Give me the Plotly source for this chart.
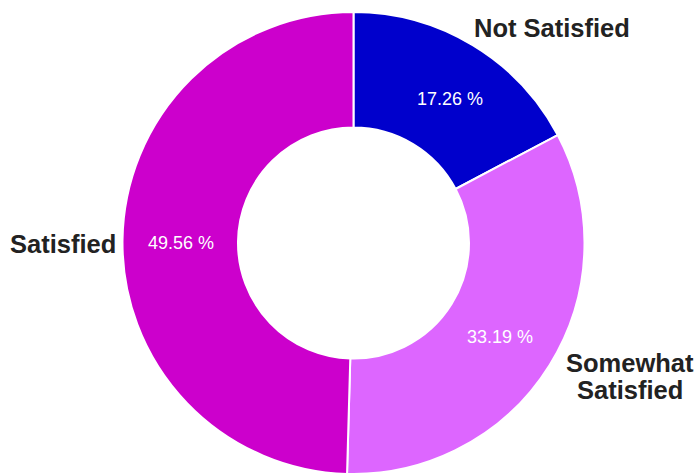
import math
import plotly.graph_objects as go

# Survey result shares (percent)
categories = ["Not Satisfied", "Somewhat Satisfied", "Satisfied"]
shares = [17.26, 33.19, 49.56]
slice_colors = ["#0000CC", "#DD66FF", "#CC00CC"]
name_lines = [["Not Satisfied"], ["Somewhat", "Satisfied"], ["Satisfied"]]

W, H = 698, 475
CX, CY, R = 353.5, 243.0, 231.0  # donut centre and outer radius in pixels
HOLE = 0.5
FONT = "Liberation Sans, Arial, sans-serif"

# label placement styles: (radius factor, x anchor, pixel nudge dx, dy)
name_style = [(1.065, "left", -8, -4), (1.065, "center", 68, 4), (1.065, "right", 10, 4)]
pct_nudge = [(7, 4), (-1, 3), (1, 2)]

fig = go.Figure(
    go.Pie(
        labels=categories,
        values=shares,
        textinfo="none",
        hole=HOLE,
        sort=False,
        direction="clockwise",
        rotation=0,
        marker=dict(colors=slice_colors, line=dict(color="white", width=2)),
        domain=dict(x=[(CX - R) / W, (CX + R) / W], y=[(H - CY - R) / H, (H - CY + R) / H]),
        showlegend=False,
        hoverinfo="label+percent",
    )
)


def polar(angle, radius):
    return CX + radius * math.sin(angle), CY - radius * math.cos(angle)


total = sum(shares)
cum = 0.0
annotations = []
for lines, v, (k, xa, ndx, ndy), (pdx, pdy) in zip(name_lines, shares, name_style, pct_nudge):
    mid = (cum + v / 2) / total * 2 * math.pi
    cum += v

    # percentage inside the ring, at mid-ring radius on the bisector
    px, py = polar(mid, R * (1 + HOLE) / 2)
    annotations.append(dict(
        x=(px + pdx) / W, y=1 - (py + pdy) / H, xref="paper", yref="paper",
        text=f"{v:.2f} %", showarrow=False, xanchor="center", yanchor="middle",
        font=dict(family=FONT, size=18, color="white"),
    ))

    # category name outside the ring
    lx, ly = polar(mid, R * k)
    lx += ndx
    ly += ndy
    step = 27
    top = ly - step * (len(lines) - 1) / 2
    for i, line in enumerate(lines):
        annotations.append(dict(
            x=lx / W, y=1 - (top + i * step) / H, xref="paper", yref="paper",
            text=f"<b>{line}</b>", showarrow=False, xanchor=xa, yanchor="middle",
            font=dict(family=FONT, size=25.5, color="#222222"),
        ))

fig.update_layout(
    width=W,
    height=H,
    margin=dict(l=0, r=0, t=0, b=0),
    paper_bgcolor="white",
    plot_bgcolor="white",
    annotations=annotations,
)

fig.write_html("out.html")
